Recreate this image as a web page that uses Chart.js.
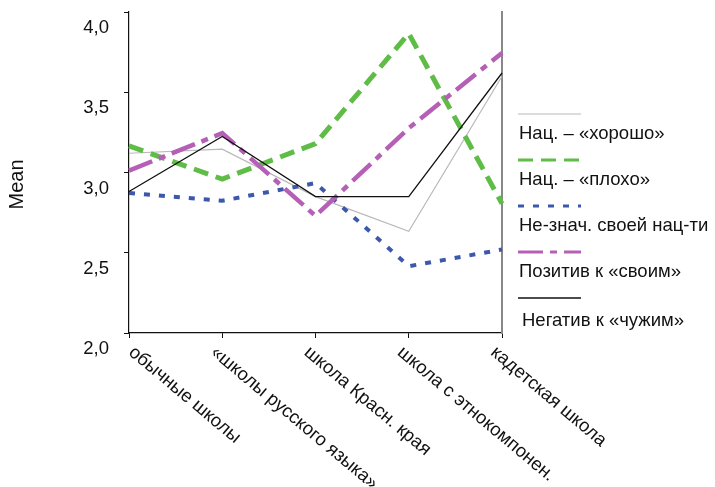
<!DOCTYPE html>
<html>
<head>
<meta charset="utf-8">
<script src="https://cdn.jsdelivr.net/npm/chart.js@4"></script>
<style>
  html, body { margin: 0; padding: 0; background: #fff; }
  canvas { display: block; }
</style>
</head>
<body>
<canvas id="meanChart" width="715" height="487"></canvas>
<script>
const categories = ['обычные школы', '«школы русского языка»', 'школа Красн. края', 'школа с этнокомпонен.', 'кадетская школа'];
const seriesNames = ['Нац. – «хорошо»', 'Нац. – «плохо»', 'Не-знач. своей нац-ти', 'Позитив к «своим»', 'Негатив к «чужим»'];

const goodValues = [3.12, 3.145, 2.85, 2.634, 3.60];
const badValues = [3.166, 2.959, 3.18, 3.866, 2.806];
const indifferentValues = [2.872, 2.824, 2.934, 2.416, 2.52];
const positiveValues = [3.012, 3.245, 2.73, 3.276, 3.745];
const negativeValues = [2.882, 3.224, 2.85, 2.85, 3.62];

const yTickLabels = ['2,0', '2,5', '3,0', '3,5', '4,0'];
const yTitle = 'Mean';

const fontFamily = '"Liberation Sans", Arial, sans-serif';

// line styles per series
const seriesStyles = [
    { color: '#b9b9b9', width: 1.2, dash: [] },
    { color: '#5fbd47', width: 5, dash: [15, 8] },
    { color: '#3d57ad', width: 4, dash: [6, 9] },
    { color: '#b560b6', width: 4.5, dash: [25, 7, 7, 7] },
    { color: '#111111', width: 1.3, dash: [] }
];

const allValues = [goodValues, badValues, indifferentValues, positiveValues, negativeValues];

const datasets = allValues.map((values, i) => ({
    label: seriesNames[i],
    data: values,
    borderColor: seriesStyles[i].color,
    borderWidth: seriesStyles[i].width,
    borderDash: seriesStyles[i].dash,
    pointRadius: 0,
    fill: false,
    tension: 0,
    order: allValues.length - i
}));

// x labels are rotated clockwise, which Chart.js can't do itself; also the axis title
const axisTexts = {
    id: 'axisTexts',
    afterDraw(chart) {
        const ctx = chart.ctx;
        const xScale = chart.scales.x;
        const yScale = chart.scales.y;
        ctx.save();
        ctx.font = '18.5px ' + fontFamily;
        ctx.fillStyle = '#111';
        ctx.textAlign = 'left';
        ctx.textBaseline = 'middle';
        categories.forEach((cat, i) => {
            const px = xScale.getPixelForValue(i);
            const x = Math.max(px - 9, xScale.left + 2);
            ctx.save();
            ctx.translate(x, xScale.top + 17);
            ctx.rotate(40 * Math.PI / 180);
            ctx.fillText(cat, 0, 0);
            ctx.restore();
        });

        ctx.font = '20px ' + fontFamily;
        ctx.textAlign = 'center';
        ctx.save();
        ctx.translate(yScale.left + 17, (yScale.top + yScale.bottom) / 2 + 12);
        ctx.rotate(-Math.PI / 2);
        ctx.fillText(yTitle, 0, 0);
        ctx.restore();
        ctx.restore();
    }
};

// legend: line sample above each label
const sideLegend = {
    id: 'sideLegend',
    afterDraw(chart) {
        const ctx = chart.ctx;
        const left = chart.chartArea.right + 16;
        const firstY = 114;
        const step = 46;
        ctx.save();
        chart.data.datasets.forEach((ds, i) => {
            const y = firstY + i * step;
            ctx.beginPath();
            ctx.strokeStyle = ds.borderColor;
            ctx.lineWidth = Math.min(ds.borderWidth, 3);
            ctx.setLineDash(ds.borderDash);
            ctx.moveTo(left, y);
            ctx.lineTo(left + 63, y);
            ctx.stroke();
            ctx.setLineDash([]);
            ctx.font = '18.5px ' + fontFamily;
            ctx.fillStyle = '#111';
            ctx.textAlign = 'left';
            ctx.textBaseline = 'middle';
            const extra = i === chart.data.datasets.length - 1 ? 3 : 0;
            ctx.fillText(ds.label, left + 1 + extra, y + 20 + extra);
        });
        ctx.restore();
    }
};

new Chart(document.getElementById('meanChart').getContext('2d'), {
    type: 'line',
    data: { labels: categories, datasets: datasets },
    plugins: [axisTexts, sideLegend],
    options: {
        animation: false,
        responsive: false,
        layout: { padding: { left: 0, right: 213, top: 12, bottom: 0 } },
        plugins: {
            legend: { display: false },
            tooltip: { enabled: false }
        },
        scales: {
            x: {
                type: 'category',
                offset: false,
                ticks: { display: false },
                grid: {
                    drawOnChartArea: false,
                    drawTicks: true,
                    tickLength: 5,
                    color: '#111'
                },
                border: { color: '#111', width: 1.2 },
                afterFit: scale => {
                    scale.height = 154;
                    scale.paddingLeft = 0;
                    scale.paddingRight = 0;
                }
            },
            y: {
                min: 2.0,
                max: 4.0,
                ticks: {
                    stepSize: 0.5,
                    padding: 15,
                    labelOffset: 16,
                    color: '#111',
                    font: { family: fontFamily, size: 18.5 },
                    callback: (value, index) => yTickLabels[index]
                },
                grid: {
                    drawOnChartArea: false,
                    drawTicks: true,
                    tickLength: 5,
                    color: '#111'
                },
                border: { color: '#111', width: 1.2 },
                afterFit: scale => {
                    scale.width = 129;
                    scale.paddingTop = 0;
                    scale.paddingBottom = 0;
                }
            },
            yRight: {
                position: 'right',
                min: 2.0,
                max: 4.0,
                ticks: { display: false },
                grid: { display: false, drawTicks: false },
                border: { display: true, color: '#888', width: 2 },
                afterFit: scale => {
                    scale.width = 0;
                    scale.paddingTop = 0;
                    scale.paddingBottom = 0;
                }
            }
        }
    }
});
</script>
</body>
</html>
